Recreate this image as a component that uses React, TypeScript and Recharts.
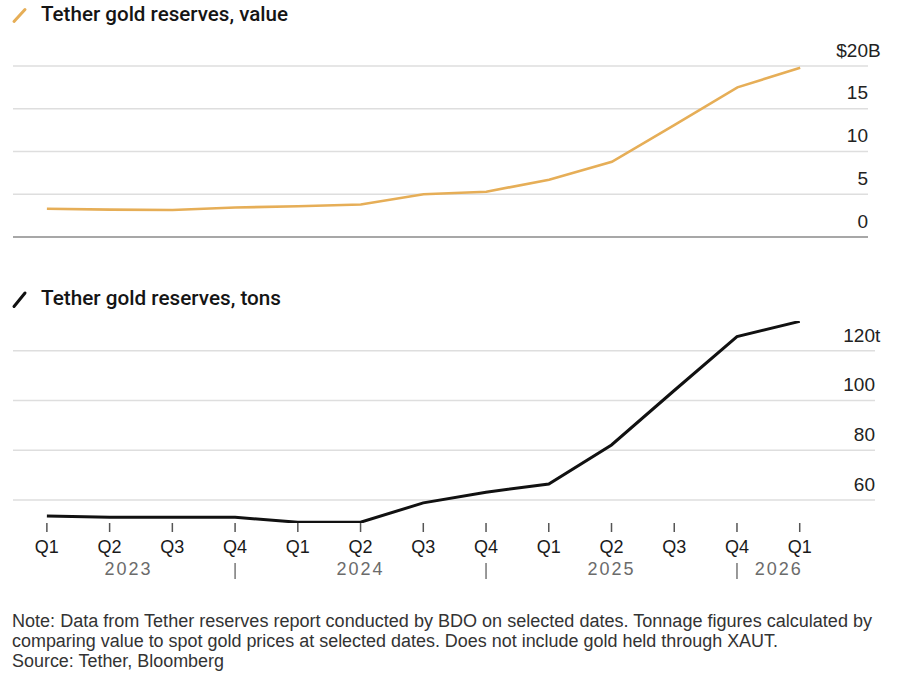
import React from 'react';
import { LineChart, Line, XAxis, YAxis, CartesianGrid, ReferenceLine } from 'recharts';

const quarters = ['Q1', 'Q2', 'Q3', 'Q4', 'Q1', 'Q2', 'Q3', 'Q4', 'Q1', 'Q2', 'Q3', 'Q4', 'Q1'];
const valueBn = [3.3, 3.2, 3.15, 3.45, 3.6, 3.8, 5.0, 5.3, 6.7, 8.8, 13.1, 17.5, 19.8];
const tonsHeld = [53.5, 53, 53, 53, 51, 51, 58.8, 63.1, 66.4, 82.1, 104, 125.7, 131.8];
const valueTicks = [0, 5, 10, 15, 20];
const tonTicks = [60, 80, 100, 120];
const yearLabels = ['2023', '2024', '2025', '2026'];
const yearAnchorIdx = [1, 5, 9, 12];
const yearSeparatorIdx = [3, 7, 11];
const titleValue = 'Tether gold reserves, value';
const titleTons = 'Tether gold reserves, tons';
const noteLines = [
  'Note: Data from Tether reserves report conducted by BDO on selected dates. Tonnage figures calculated by',
  'comparing value to spot gold prices at selected dates. Does not include gold held through XAUT.',
  'Source: Tether, Bloomberg',
];

const rows = quarters.map((q, i) => ({ i, q, value: valueBn[i], tons: tonsHeld[i] }));

const GOLD = '#E6AE57';
const FONT = '"Liberation Sans", Arial, sans-serif';
const TITLE_FONT = 'Roboto, "Liberation Sans", Arial, sans-serif';
const NOTE_FONT = '"Liberation Sans Narrow", "Liberation Sans", Arial, sans-serif';

const yearOffsets: Record<number, number> = { 1: 19, 5: 0, 9: 0, 12: -21 };

function ValueTick(props: any) {
  const { x, y, payload } = props;
  const v = payload.value;
  const isTop = v === valueTicks[valueTicks.length - 1];
  return (
    <g>
      <text x={x} y={y - 9.5} textAnchor="end" fontSize={19} fill="#222" fontFamily={FONT}>
        {isTop ? `$${v}` : `${v}`}
      </text>
      {isTop && (
        <text x={x} y={y - 9.5} textAnchor="start" fontSize={19} fill="#222" fontFamily={FONT}>
          B
        </text>
      )}
    </g>
  );
}

function TonTick(props: any) {
  const { x, y, payload } = props;
  const v = payload.value;
  const isTop = v === tonTicks[tonTicks.length - 1];
  return (
    <g>
      <text x={x} y={y - 9} textAnchor="end" fontSize={19} fill="#222" fontFamily={FONT}>
        {`${v}`}
      </text>
      {isTop && (
        <text x={x} y={y - 9} textAnchor="start" fontSize={19} fill="#222" fontFamily={FONT}>
          t
        </text>
      )}
    </g>
  );
}

function QuarterTick(props: any) {
  const { x, y, payload } = props;
  const i = payload.value as number;
  const yi = yearAnchorIdx.indexOf(i);
  return (
    <g>
      <line x1={x} x2={x} y1={y} y2={y + 9} stroke="#555" strokeWidth={1.5} />
      <text x={x} y={y + 30} textAnchor="middle" fontSize={18} fill="#1a1a1a" fontFamily={FONT}>
        {quarters[i]}
      </text>
      {yearSeparatorIdx.includes(i) && (
        <line x1={x} x2={x} y1={y + 40} y2={y + 56} stroke="#777" strokeWidth={1.5} />
      )}
      {yi >= 0 && (
        <text
          x={x + (yearOffsets[i] || 0)}
          y={y + 52}
          textAnchor="middle"
          fontSize={18}
          letterSpacing={2}
          fill="#6b6b6b"
          fontFamily={FONT}
        >
          {yearLabels[yi]}
        </text>
      )}
    </g>
  );
}

export default function App() {
  return (
    <div style={{ position: 'absolute', left: 0, top: 0, width: 913, height: 675, background: '#fff' }}>
      <div style={{ position: 'absolute', left: 0, top: 0 }}>
        <LineChart width={913} height={250} data={rows} margin={{ top: 66, right: 0, bottom: 13, left: 13 }}>
          <CartesianGrid vertical={false} stroke="#dedede" strokeWidth={1.5} horizontalValues={valueTicks.slice(1)} />
          <XAxis type="number" dataKey="i" domain={[-0.54, 13.08]} hide />
          <YAxis
            orientation="right"
            width={45}
            domain={[0, 20]}
            ticks={valueTicks}
            axisLine={false}
            tickLine={false}
            tickSize={0}
            tickMargin={0}
            tick={<ValueTick />}
            interval={0}
          />
          <ReferenceLine y={0} stroke="#8a8a8a" strokeWidth={1.5} />
          <Line
            type="linear"
            dataKey="value"
            stroke={GOLD}
            strokeWidth={2.6}
            dot={false}
            isAnimationActive={false}
          />
        </LineChart>
      </div>
      <div style={{ position: 'absolute', left: 0, top: 0 }}>
        <LineChart width={913} height={600} data={rows} margin={{ top: 320.9, right: 0, bottom: 0, left: 13 }}>
          <CartesianGrid vertical={false} stroke="#dedede" strokeWidth={1.5} horizontalValues={tonTicks} />
          <XAxis
            type="number"
            dataKey="i"
            domain={[-0.54, 13.2]}
            ticks={quarters.map((_, i) => i)}
            interval={0}
            height={77}
            axisLine={false}
            tickLine={false}
            tickSize={0}
            tickMargin={0}
            tick={<QuarterTick />}
          />
          <YAxis
            orientation="right"
            width={38}
            domain={[50.7, 132]}
            ticks={tonTicks}
            axisLine={false}
            tickLine={false}
            tickSize={0}
            tickMargin={0}
            tick={<TonTick />}
            interval={0}
            allowDataOverflow
          />
          <Line
            type="linear"
            dataKey="tons"
            stroke="#111"
            strokeWidth={3}
            dot={false}
            isAnimationActive={false}
          />
        </LineChart>
      </div>
      <svg
        width={913}
        height={675}
        style={{ position: 'absolute', left: 0, top: 0, pointerEvents: 'none' }}
      >
        <line x1={14} y1={21.5} x2={25} y2={9.5} stroke={GOLD} strokeWidth={3} strokeLinecap="round" />
        <text
          x={41}
          y={21}
          fontSize={20}
          fontWeight={500}
          fill="#151515"
          fontFamily={TITLE_FONT}
          textLength={247}
          lengthAdjust="spacingAndGlyphs"
        >
          {titleValue}
        </text>
        <line x1={14} y1={306.5} x2={25} y2={293} stroke="#111" strokeWidth={3} strokeLinecap="round" />
        <text
          x={41}
          y={305}
          fontSize={20}
          fontWeight={500}
          fill="#151515"
          fontFamily={TITLE_FONT}
          textLength={240}
          lengthAdjust="spacingAndGlyphs"
        >
          {titleTons}
        </text>
        {noteLines.map((line, k) => (
          <text
            key={k}
            x={12}
            y={627 + k * 20}
            fontSize={18}
            fill="#333"
            fontFamily={NOTE_FONT}
            textLength={[860, 766, 212][k]}
            lengthAdjust="spacingAndGlyphs"
          >
            {line}
          </text>
        ))}
      </svg>
    </div>
  );
}
